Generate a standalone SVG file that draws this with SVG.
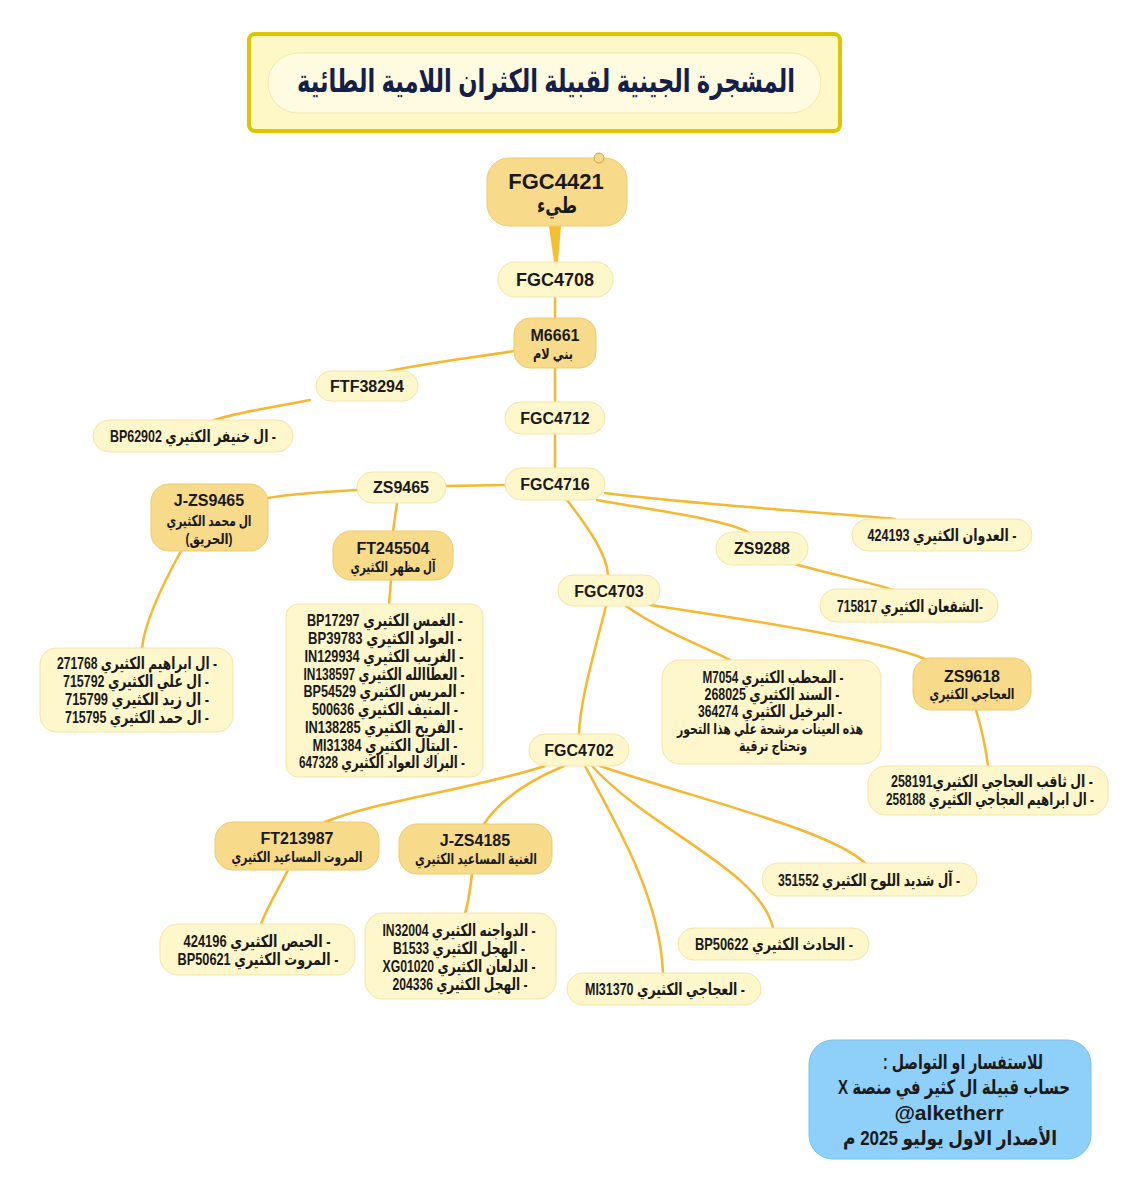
<svg xmlns="http://www.w3.org/2000/svg" width="1148" height="1200" viewBox="0 0 1148 1200">
<style>
.c{fill:none;stroke:#f5b82e;stroke-width:2.5;stroke-linecap:round}
.d{fill:#f8da8b;stroke:#eccb6e;stroke-width:1}
.l{fill:#fef7cb;stroke:#f3e5a8;stroke-width:1}
.t{font-family:"Liberation Sans","DejaVu Sans",sans-serif;font-weight:bold;fill:#1a1a1a;text-anchor:middle;direction:rtl}
.lt{direction:ltr}
.s14{font-size:15px}.s15{font-size:16.5px}.s16{font-size:16px}.s18{font-size:18px}.s22{font-size:22px}
</style>
<rect width="1148" height="1200" fill="#ffffff"/>
<g id="title">
<rect x="249" y="34" width="591" height="97" rx="6" fill="#fdf8c6" stroke="#dfc500" stroke-width="4"/>
<rect x="268" y="53" width="553" height="60" rx="30" fill="#fffbe0" stroke="#f3e9b0" stroke-width="1"/>
<text class="t" x="546" y="92" style="font-size:32px;fill:#14204a" textLength="498" lengthAdjust="spacingAndGlyphs">المشجرة الجينية لقبيلة الكثران اللامية الطائية</text>
</g>
<g id="connectors">
<polygon points="549,226 561,226 558,262 554,262" fill="#f5c030"/>
<path class="c" d="M555,297 L555,318"/>
<path class="c" d="M514,351 C470,358 420,364 385,372"/>
<path class="c" d="M310,400 C270,408 232,413 212,421"/>
<path class="c" d="M555,368 L555,402"/>
<path class="c" d="M555,434 L555,468"/>
<path class="c" d="M505,485 L446,486"/>
<path class="c" d="M357,490 C320,492 290,494 268,498"/>
<path class="c" d="M397,503 L393,531"/>
<path class="c" d="M181,551 C165,580 145,620 142,648"/>
<path class="c" d="M391,580 L389,604"/>
<path class="c" d="M567,500 C590,530 607,555 608,575"/>
<path class="c" d="M597,500 C650,510 720,518 748,532"/>
<path class="c" d="M605,493 C700,505 820,512 895,519"/>
<path class="c" d="M795,564 C830,574 870,582 893,590"/>
<path class="c" d="M650,605 C750,620 880,640 925,659"/>
<path class="c" d="M626,606 C660,630 700,645 730,660"/>
<path class="c" d="M976,710 C982,730 986,750 988,766"/>
<path class="c" d="M606,606 C595,650 580,700 579,734"/>
<path class="c" d="M545,766 C470,790 380,800 325,822"/>
<path class="c" d="M564,766 C530,780 500,800 484,824"/>
<path class="c" d="M288,870 C278,890 268,905 261,924"/>
<path class="c" d="M472,874 C470,890 468,905 465,913"/>
<path class="c" d="M585,766 C620,830 660,900 663,973"/>
<path class="c" d="M592,766 C650,830 760,870 773,928"/>
<path class="c" d="M600,766 C700,800 830,830 865,863"/>
</g>
<g id="n-FGC4421">
<rect class="d" x="487" y="158" width="140" height="68" rx="22"/>
<circle cx="599" cy="158" r="5" fill="#f8da8b" stroke="#c9a24a" stroke-width="1"/>
<text class="t lt s22" x="556" y="189">FGC4421</text>
<text class="t s22" x="557" y="213" textLength="40" lengthAdjust="spacingAndGlyphs">طيء</text>
</g>
<g id="n-FGC4708">
<rect class="l" x="498" y="262" width="115" height="35" rx="17"/>
<text class="t lt s18" x="555" y="286">FGC4708</text>
</g>
<g id="n-M6661">
<rect class="d" x="514" y="318" width="82" height="50" rx="16"/>
<text class="t lt s16" x="555" y="341">M6661</text>
<text class="t s14" x="553" y="359" textLength="40" lengthAdjust="spacingAndGlyphs">بني لام</text>
</g>
<g id="n-FTF38294">
<rect class="l" x="316" y="371" width="102" height="30" rx="15"/>
<text class="t lt s16" x="367" y="392">FTF38294</text>
</g>
<g id="n-BP62902">
<rect class="l" x="93" y="420" width="200" height="32" rx="16"/>
<text class="t s15" x="193" y="442" textLength="166" lengthAdjust="spacingAndGlyphs">- ال خنيفر الكثيري BP62902</text>
</g>
<g id="n-FGC4712">
<rect class="l" x="505" y="402" width="100" height="32" rx="16"/>
<text class="t lt s16" x="555" y="424">FGC4712</text>
</g>
<g id="n-FGC4716">
<rect class="l" x="505" y="468" width="100" height="32" rx="16"/>
<text class="t lt s16" x="555" y="490">FGC4716</text>
</g>
<g id="n-ZS9465">
<rect class="l" x="357" y="472" width="89" height="31" rx="15"/>
<text class="t lt s16" x="401" y="493">ZS9465</text>
</g>
<g id="n-J-ZS9465">
<rect class="d" x="151" y="484" width="117" height="67" rx="18"/>
<text class="t lt s16" x="209" y="506">J-ZS9465</text>
<text class="t s14" x="209" y="526" textLength="85" lengthAdjust="spacingAndGlyphs">ال محمد الكثيري</text>
<text class="t s14" x="209" y="544" textLength="47" lengthAdjust="spacingAndGlyphs">(الحريق)</text>
</g>
<g id="n-FT245504">
<rect class="d" x="333" y="531" width="120" height="49" rx="18"/>
<text class="t lt s16" x="393" y="554">FT245504</text>
<text class="t s14" x="393" y="572" textLength="85" lengthAdjust="spacingAndGlyphs">آل مظهر الكثيري</text>
</g>
<g id="n-list-ZS9465">
<rect class="l" x="40" y="648" width="193" height="84" rx="16"/>
<text class="t s15" x="137" y="669" textLength="160" lengthAdjust="spacingAndGlyphs">- ال ابراهيم الكثيري 271768</text>
<text class="t s15" x="136" y="687" textLength="146" lengthAdjust="spacingAndGlyphs">- ال علي الكثيري 715792</text>
<text class="t s15" x="137" y="705" textLength="144" lengthAdjust="spacingAndGlyphs">- ال زيد الكثيري 715799</text>
<text class="t s15" x="137" y="723" textLength="144" lengthAdjust="spacingAndGlyphs">- ال حمد الكثيري 715795</text>
</g>
<g id="n-list-FT245504">
<rect class="l" x="286" y="604" width="197" height="173" rx="12"/>
<text class="t s15" x="385" y="626" textLength="156" lengthAdjust="spacingAndGlyphs">- الغمس الكثيري BP17297</text>
<text class="t s15" x="385" y="644" textLength="154" lengthAdjust="spacingAndGlyphs">- العواد الكثيري BP39783</text>
<text class="t s15" x="384" y="662" textLength="159" lengthAdjust="spacingAndGlyphs">- الغريب الكثيري IN129934</text>
<text class="t s15" x="384" y="680" textLength="161" lengthAdjust="spacingAndGlyphs">- العطاالله الكثيري IN138597</text>
<text class="t s15" x="384" y="697" textLength="161" lengthAdjust="spacingAndGlyphs">- المريس الكثيري BP54529</text>
<text class="t s15" x="385" y="715" textLength="146" lengthAdjust="spacingAndGlyphs">- المنيف الكثيري 500636</text>
<text class="t s15" x="384" y="733" textLength="158" lengthAdjust="spacingAndGlyphs">- الفريح الكثيري IN138285</text>
<text class="t s15" x="385" y="751" textLength="145" lengthAdjust="spacingAndGlyphs">- البتال الكثيري MI31384</text>
<text class="t s15" x="382" y="768" textLength="166" lengthAdjust="spacingAndGlyphs">- البراك العواد الكثيري 647328</text>
</g>
<g id="n-FGC4703">
<rect class="l" x="558" y="575" width="102" height="31" rx="15"/>
<text class="t lt s16" x="609" y="597">FGC4703</text>
</g>
<g id="n-ZS9288">
<rect class="l" x="716" y="532" width="92" height="33" rx="16"/>
<text class="t lt s16" x="762" y="554">ZS9288</text>
</g>
<g id="n-424193">
<rect class="l" x="852" y="519" width="180" height="32" rx="16"/>
<text class="t s15" x="942" y="541" textLength="149" lengthAdjust="spacingAndGlyphs">- العدوان الكثيري 424193</text>
</g>
<g id="n-715817">
<rect class="l" x="820" y="589" width="178" height="33" rx="16"/>
<text class="t s15" x="910" y="612" textLength="146" lengthAdjust="spacingAndGlyphs">-الشقعان الكثيري 715817</text>
</g>
<g id="n-ZS9618">
<rect class="d" x="913" y="658" width="118" height="52" rx="18"/>
<text class="t lt s16" x="972" y="682">ZS9618</text>
<text class="t s14" x="972" y="699" textLength="85" lengthAdjust="spacingAndGlyphs">العجاجي الكثيري</text>
</g>
<g id="n-list-M7054">
<rect class="l" x="662" y="660" width="219" height="104" rx="18"/>
<text class="t s15" x="773" y="683" textLength="141" lengthAdjust="spacingAndGlyphs">- المحطب الكثيري M7054</text>
<text class="t s15" x="772" y="700" textLength="135" lengthAdjust="spacingAndGlyphs">- السند الكثيري 268025</text>
<text class="t s15" x="770" y="717" textLength="144" lengthAdjust="spacingAndGlyphs">- البرخيل الكثيري 364274</text>
<text class="t s14" x="770" y="734" textLength="186" lengthAdjust="spacingAndGlyphs">هذه العينات مرشحة علي هذا التحور</text>
<text class="t s14" x="773" y="751" textLength="68" lengthAdjust="spacingAndGlyphs">وتحتاج ترقية</text>
</g>
<g id="n-list-ZS9618">
<rect class="l" x="868" y="766" width="240" height="49" rx="18"/>
<text class="t s15" x="992" y="787" textLength="202" lengthAdjust="spacingAndGlyphs">- ال ثاقب العجاجي الكثيري258191</text>
<text class="t s15" x="990" y="805" textLength="208" lengthAdjust="spacingAndGlyphs">- ال ابراهيم العجاجي الكثيري 258188</text>
</g>
<g id="n-FGC4702">
<rect class="l" x="529" y="734" width="100" height="32" rx="16"/>
<text class="t lt s16" x="579" y="756">FGC4702</text>
</g>
<g id="n-FT213987">
<rect class="d" x="215" y="822" width="164" height="48" rx="18"/>
<text class="t lt s16" x="297" y="844">FT213987</text>
<text class="t s14" x="297" y="862" textLength="131" lengthAdjust="spacingAndGlyphs">المروت المساعيد الكثيري</text>
</g>
<g id="n-J-ZS4185">
<rect class="d" x="399" y="824" width="153" height="50" rx="18"/>
<text class="t lt s16" x="475" y="846">J-ZS4185</text>
<text class="t s14" x="476" y="864" textLength="122" lengthAdjust="spacingAndGlyphs">الغنية المساعيد الكثيري</text>
</g>
<g id="n-list-FT213987">
<rect class="l" x="160" y="924" width="195" height="51" rx="18"/>
<text class="t s15" x="257" y="947" textLength="147" lengthAdjust="spacingAndGlyphs">- الحيص الكثيري 424196</text>
<text class="t s15" x="258" y="965" textLength="161" lengthAdjust="spacingAndGlyphs">- المروت الكثيري BP50621</text>
</g>
<g id="n-list-J-ZS4185">
<rect class="l" x="365" y="913" width="191" height="86" rx="18"/>
<text class="t s15" x="459" y="936" textLength="153" lengthAdjust="spacingAndGlyphs">- الدواجنه الكثيري IN32004</text>
<text class="t s15" x="459" y="954" textLength="132" lengthAdjust="spacingAndGlyphs">- الهجل الكثيري B1533</text>
<text class="t s15" x="459" y="972" textLength="153" lengthAdjust="spacingAndGlyphs">- الدلعان الكثيري XG01020</text>
<text class="t s15" x="460" y="990" textLength="135" lengthAdjust="spacingAndGlyphs">- الهجل الكثيري 204336</text>
</g>
<g id="n-MI31370">
<rect class="l" x="567" y="973" width="194" height="32" rx="16"/>
<text class="t s15" x="665" y="995" textLength="160" lengthAdjust="spacingAndGlyphs">- العجاجي الكثيري MI31370</text>
</g>
<g id="n-BP50622">
<rect class="l" x="678" y="928" width="191" height="32" rx="16"/>
<text class="t s15" x="774" y="950" textLength="158" lengthAdjust="spacingAndGlyphs">- الحادث الكثيري BP50622</text>
</g>
<g id="n-351552">
<rect class="l" x="762" y="863" width="215" height="33" rx="16"/>
<text class="t s15" x="869" y="886" textLength="182" lengthAdjust="spacingAndGlyphs">- آل شديد اللوح الكثيري 351552</text>
</g>
<g id="footer">
<rect x="809" y="1040" width="282" height="119" rx="24" fill="#8fd0fb" stroke="#78c0ee" stroke-width="1"/>
<text class="t" x="963" y="1069" style="font-size:20px" textLength="160" lengthAdjust="spacingAndGlyphs">للاستفسار او التواصل :</text>
<text class="t" x="954" y="1094" style="font-size:20px" textLength="232" lengthAdjust="spacingAndGlyphs">حساب قبيلة ال كثير في منصة X</text>
<text class="t lt" x="949" y="1120" style="font-size:21px">@alketherr</text>
<text class="t" x="950" y="1145" style="font-size:20px" textLength="214" lengthAdjust="spacingAndGlyphs">الأصدار الاول يوليو 2025 م</text>
</g>
</svg>
